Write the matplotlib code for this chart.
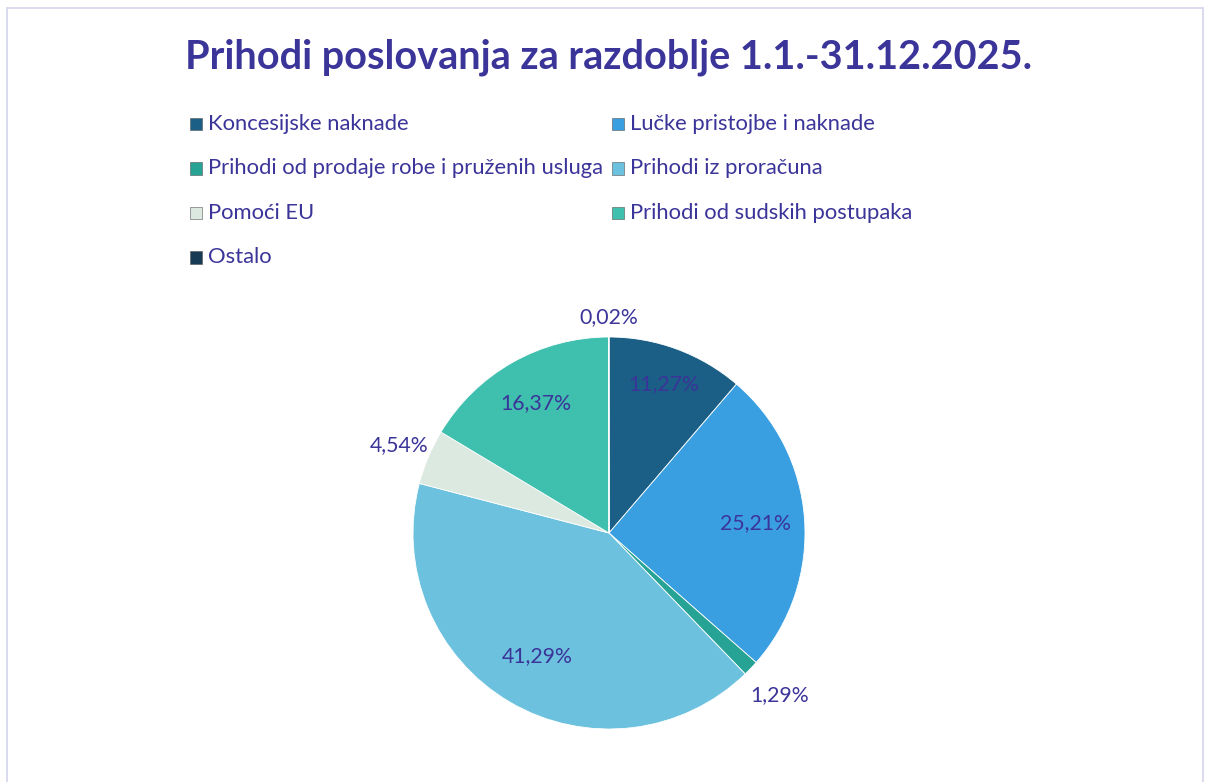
import matplotlib.pyplot as plt
from matplotlib.patches import Rectangle
import numpy as np

# data
categories = ['Koncesijske naknade', 'Lučke pristojbe i naknade',
              'Prihodi od prodaje robe i pruženih usluga', 'Prihodi iz proračuna',
              'Pomoći EU', 'Prihodi od sudskih postupaka', 'Ostalo']
shares = [11.27, 25.21, 1.29, 41.29, 4.54, 16.37, 0.02]
labels = ['11,27%', '25,21%', '1,29%', '41,29%', '4,54%', '16,37%', '0,02%']
colors = ['#1b5f86', '#3a9fe0', '#27a395', '#6cc2de', '#dce9e1', '#3fbfae', '#173a55']
label_dist = [0.81, 0.75, 1.2, 0.73, 1.16, 0.76, 1.1]

txt_color = '#3b3499'
plt.rcParams['font.family'] = ['Lato', 'DejaVu Sans']

fig = plt.figure(figsize=(12.05, 7.82), dpi=100)
W, H = 1205, 782

# thin chart border
fig.patches.append(Rectangle((7 / W, -0.01), 1196 / W, 1 - 8 / H + 0.01,
                             transform=fig.transFigure, fill=False,
                             edgecolor='#d4d4ee', linewidth=1.2))

fig.text(609 / W, 1 - 57 / H, 'Prihodi poslovanja za razdoblje 1.1.-31.12.2025.',
         ha='center', va='center', fontsize=28.5, fontweight='bold', color=txt_color)

# legend, row-wise in two columns
for i, name in enumerate(categories):
    row, col = i // 2, i % 2
    x0 = 190 if col == 0 else 612
    y0 = 124 + row * 44.5
    fig.patches.append(Rectangle((x0 / W, 1 - (y0 + 6) / H), 12 / W, 12 / H,
                                 transform=fig.transFigure, facecolor=colors[i],
                                 edgecolor='#555555', linewidth=0.4))
    fig.text((x0 + 18) / W, 1 - y0 / H, name, ha='left', va='center',
             fontsize=15.8, color=txt_color)

# pie
R = 196
cx, cy = 609, 533
ax = fig.add_axes([(cx - R) / W, 1 - (cy + R) / H, 2 * R / W, 2 * R / H])
wedges, _ = ax.pie(shares, colors=colors, startangle=90, counterclock=False,
                   radius=1.0, wedgeprops=dict(edgecolor='#ffffff', linewidth=0.6))
ax.set_xlim(-1, 1)
ax.set_ylim(-1, 1)
ax.set_aspect('equal')
ax.axis('off')

for w, lab, d in zip(wedges, labels, label_dist):
    ang = np.deg2rad((w.theta1 + w.theta2) / 2)
    ax.text(d * np.cos(ang), d * np.sin(ang), lab, ha='center', va='center',
            fontsize=15.3, color=txt_color, clip_on=False)

fig.savefig('out.png', dpi=100)
